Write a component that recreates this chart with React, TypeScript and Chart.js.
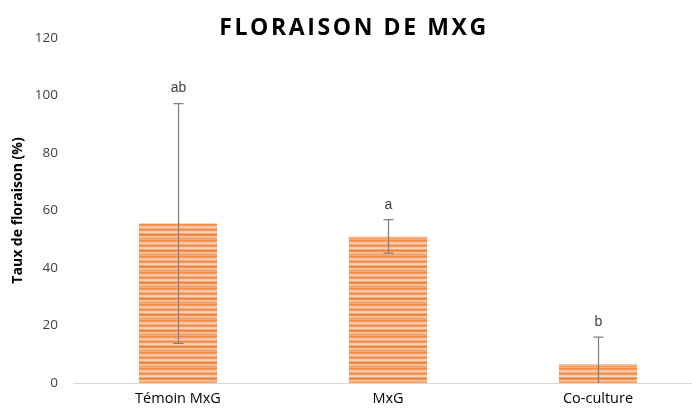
import React, { useEffect, useRef } from "react";
import { Chart, registerables } from "chart.js";

Chart.register(...registerables);

const categories = ["Témoin MxG", "MxG", "Co-culture"];
const floraison = [55.5, 51.0, 6.6];
const errors = [41.7, 5.8, 9.4];
const letters = ["ab", "a", "b"];
const yTicks = [0, 20, 40, 60, 80, 100, 120];
const chartTitle = "FLORAISON DE MXG";
const yTitle = "Taux de floraison (%)";

function makePattern(): CanvasPattern | string {
  const c = document.createElement("canvas");
  c.width = 4;
  c.height = 16;
  const g = c.getContext("2d");
  if (!g) return "#f4a46a";
  const rows = [
    "#f08d4b", "#f39e64", "#f7bb92", "#f9ceb0", "#f6b285", "#ef8744",
    "#f3a168", "#f8c5a1", "#fad5bb", "#f4a66f", "#ee8038", "#f19353",
    "#f8c39d", "#f7b88c", "#f29b60", "#f5ab7a",
  ];
  rows.forEach((col, i) => {
    g.fillStyle = col;
    g.fillRect(0, i, 4, 1);
  });
  const main = document.createElement("canvas").getContext("2d");
  return main ? (main.createPattern(c, "repeat") as CanvasPattern) : "#f4a46a";
}

const overlayPlugin = {
  id: "overlay",
  afterDatasetsDraw(chart: any) {
    const { ctx, scales } = chart;
    const x = scales.x;
    const y = scales.y;
    ctx.save();
    floraison.forEach((v, i) => {
      const cx = Math.round(x.getPixelForValue(i)) + 0.5;
      const top = y.getPixelForValue(v + errors[i]);
      const bot = y.getPixelForValue(Math.max(0, v - errors[i]));
      ctx.strokeStyle = "#808080";
      ctx.lineWidth = 1.25;
      ctx.beginPath();
      ctx.moveTo(cx, top);
      ctx.lineTo(cx, bot);
      ctx.moveTo(cx - 5, top);
      ctx.lineTo(cx + 5, top);
      if (v - errors[i] > 0) {
        ctx.moveTo(cx - 5, bot);
        ctx.lineTo(cx + 5, bot);
      }
      ctx.stroke();
      ctx.fillStyle = "#404040";
      ctx.font = "14px 'Liberation Sans', Arial, sans-serif";
      ctx.textAlign = "center";
      ctx.textBaseline = "middle";
      ctx.fillText(letters[i], cx, top - 15);
    });
    ctx.fillStyle = "#000000";
    ctx.font = "bold 23px 'Open Sans', sans-serif";
    (ctx as any).letterSpacing = "2.6px";
    ctx.textAlign = "center";
    ctx.textBaseline = "middle";
    ctx.fillText(chartTitle, 354, 28);
    ctx.restore();
  },
};

export default function App() {
  const ref = useRef<HTMLCanvasElement | null>(null);
  useEffect(() => {
    if (!ref.current) return;
    const pattern = makePattern();
    const chart = new Chart(ref.current, {
      type: "bar",
      data: {
        labels: categories,
        datasets: [
          {
            data: floraison,
            backgroundColor: pattern as any,
            borderWidth: 0,
            barPercentage: 0.372,
            categoryPercentage: 1,
          },
        ],
      },
      options: {
        animation: false,
        responsive: false,
        maintainAspectRatio: false,
        layout: { padding: { top: 38, left: 0, right: 0, bottom: 0 } },
        plugins: {
          legend: { display: false },
          tooltip: { enabled: false },
          title: { display: false },
        },
        scales: {
          x: {
            grid: { display: true, color: "rgba(0,0,0,0)", drawTicks: false },
            border: { display: true, color: "#d9d9d9", width: 1 },
            ticks: {
              color: "#000000",
              padding: 7,
              font: { family: "'Open Sans', sans-serif", size: 14.5 },
              maxRotation: 0,
            },
            afterFit(scale: any) {
              scale.height = 27;
            },
          },
          y: {
            min: 0,
            max: 120,
            afterBuildTicks(scale: any) {
              scale.ticks = yTicks.map((v) => ({ value: v }));
            },
            grid: { display: false, drawTicks: false },
            border: { display: false },
            ticks: {
              color: "#404040",
              padding: 15,
              font: { family: "'Open Sans', sans-serif", size: 13.5 },
            },
            title: {
              display: true,
              text: yTitle,
              color: "#000000",
              padding: { top: 10, bottom: 0 },
              font: { family: "'Open Sans', sans-serif", size: 14, weight: "bold" },
            },
            afterFit(scale: any) {
              scale.width = 73;
            },
          },
        },
      },
      plugins: [overlayPlugin],
    });
    return () => chart.destroy();
  }, []);
  return (
    <div
      style={{
        position: "fixed",
        left: 0,
        top: 0,
        width: 692,
        height: 410,
        overflow: "hidden",
        background: "#ffffff",
      }}
    >
      <canvas ref={ref} width={703} height={410} style={{ display: "block", width: 703, height: 410 }} />
    </div>
  );
}
